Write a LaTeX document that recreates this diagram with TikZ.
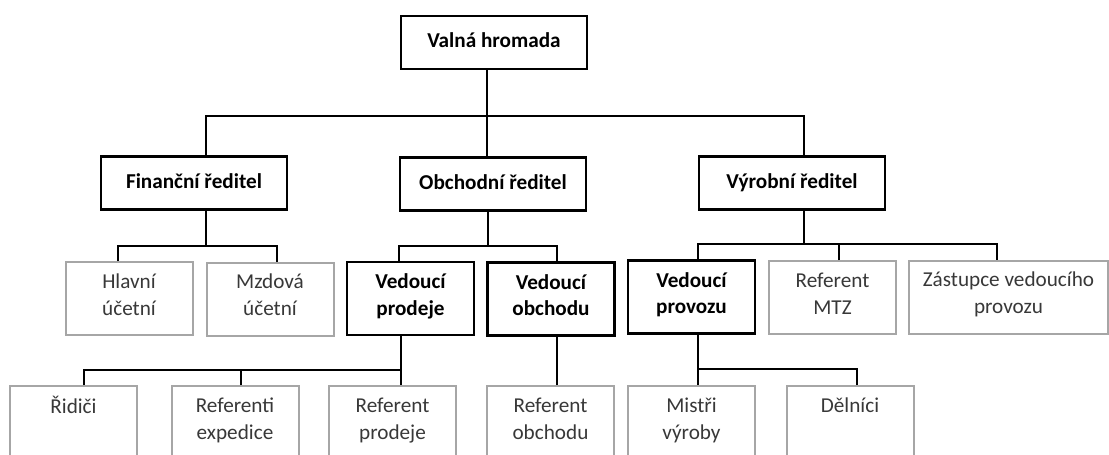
\documentclass[tikz,border=0pt]{standalone}
\usepackage{fontspec}
\setmainfont{Carlito}
\definecolor{boxgray}{HTML}{A6A6A6}
\definecolor{txtgray}{HTML}{383838}
\newcommand\orgsize{\fontsize{10.6pt}{13.4pt}\selectfont}
\tikzset{
  box/.style={align=center, inner sep=0pt, execute at begin node=\strut, execute at end node=\strut},
  chief/.style={box, draw=black, line width=1.2pt, font=\orgsize\bfseries,
    minimum width=93pt, minimum height=26.5pt},
  unit/.style={box, draw=black, line width=1.2pt, font=\orgsize\bfseries,
    minimum width=63.5pt, minimum height=36.5pt},
  staff/.style={box, draw=boxgray, line width=1pt, text=txtgray, font=\orgsize,
    minimum width=63.5pt, minimum height=36.5pt},
  link/.style={line width=1pt}
}
\begin{document}
\begin{tikzpicture}[x=0.5pt, y=-0.5pt]
\useasboundingbox (0,0) rectangle (1109,455);
\clip (0,0) rectangle (1109,455);
% vedeni
\node[chief] (valna) at (494,42.5) {Valná hromada};
\node[chief] (fin) at (194,183) {Finanční ředitel};
\node[chief] (obch) at (493,184) {Obchodní ředitel};
\node[chief] (vyr) at (792,183) {Výrobní ředitel};
% druha uroven
\node[staff] (hlavni) at (129,298.5) {Hlavní\\účetní};
\node[staff] (mzdova) at (270,299) {Mzdová\\účetní};
\node[unit] (vprod) at (410.5,298.5) {Vedoucí\\prodeje};
\node[unit] (vobch) at (551,299) {Vedoucí\\obchodu};
\node[unit] (vprov) at (691.5,297) {Vedoucí\\provozu};
\node[staff] (mtz) at (832.5,297.5) {Referent\\MTZ};
\node[staff, minimum width=99.5pt] (zast) at (1008.5,297) {Zástupce vedoucího\\provozu};
% treti uroven
\node[staff] (ridici) at (73.5,422.5) {Řidiči\\~};
\node[staff] (expedice) at (235,422.5) {Referenti\\expedice};
\node[staff] (rprod) at (392.5,422.5) {Referent\\prodeje};
\node[staff] (robch) at (550.5,422.5) {Referent\\obchodu};
\node[staff] (mistri) at (691.5,422.5) {Mistři\\výroby};
\node[staff] (delnici) at (850,422.5) {Dělníci\\~};

% spoje
\coordinate (jtop) at (487,116);
\draw[link] (valna.south -| jtop) -- (obch.north -| jtop);
\draw[link] ([xshift=6pt]fin.north) |- (jtop) -| ([xshift=6pt]vyr.north);

\coordinate (jfin) at (206,246);
\draw[link] (fin.south -| jfin) -- (jfin);
\draw[link] ([xshift=-5.5pt]hlavni.north) |- (jfin) -| ([xshift=3.5pt]mzdova.north);

\coordinate (jobch) at (487.5,246);
\draw[link] (obch.south -| jobch) -- (jobch);
\draw[link] ([xshift=-5.75pt]vprod.north) |- (jobch) -| ([xshift=3pt]vobch.north);

\coordinate (jvyr) at (804,244);
\coordinate (jmtz) at (839,244);
\draw[link] (vyr.south -| jvyr) -- (jvyr);
\draw[link] ([xshift=3.25pt]vprov.north) |- (jvyr) -| ([xshift=-5.75pt]zast.north);
\draw[link] (mtz.north -| jmtz) -- (jmtz);

\coordinate (jvp) at (400.5,370);
\coordinate (jexp) at (240.5,370);
\draw[link] (vprod.south -| jvp) -- (rprod.north -| jvp);
\draw[link] ([xshift=5pt]ridici.north) |- (jvp);
\draw[link] (expedice.north -| jexp) -- (jexp);

\coordinate (jvo) at (557,360);
\draw[link] (vobch.south -| jvo) -- (robch.north -| jvo);

\coordinate (jpv) at (698,369);
\draw[link] (vprov.south -| jpv) -- (mistri.north -| jpv);
\draw[link] (jpv) -| ([xshift=3.5pt]delnici.north);
\end{tikzpicture}
\end{document}
